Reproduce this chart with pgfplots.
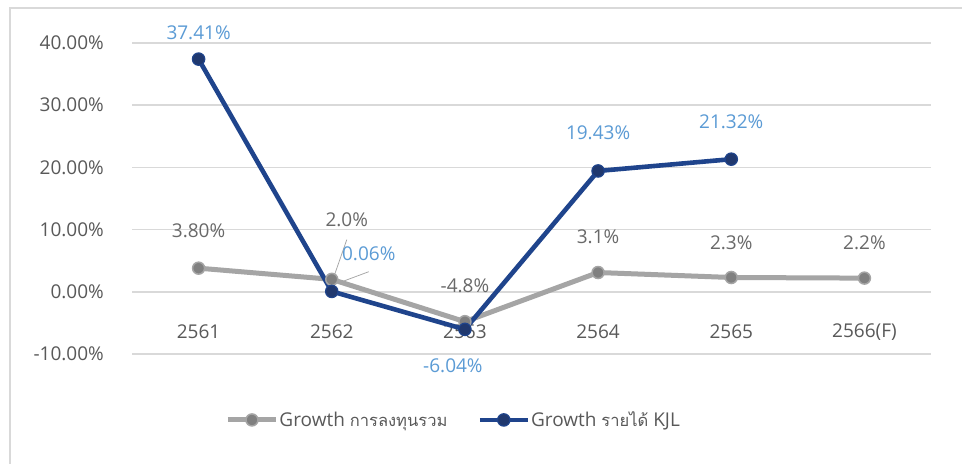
\documentclass[border=0pt]{standalone}
\usepackage{pgfplots}
\pgfplotsset{compat=1.18}
\usepackage{fontspec}
\setmainfont{Open Sans}
\newfontfamily\thaifont[Script=Thai,Scale=0.87]{Loma}
\definecolor{gridc}{RGB}{217,217,217}
\definecolor{tickc}{RGB}{89,89,89}
\definecolor{glab}{RGB}{105,105,105}
\definecolor{blab}{RGB}{91,155,213}
\definecolor{gline}{RGB}{165,165,165}
\definecolor{gmark}{RGB}{128,128,128}
\definecolor{bline}{RGB}{31,68,140}
\definecolor{bmark}{RGB}{32,56,110}
\pgfplotstableread{
x y lab dx dy
0 3.80 3.80 0 37
1 2.0 2.0 15 60
2 -4.8 -4.8 0 36
3 3.1 3.1 0 36
4 2.3 2.3 0 35
5 2.2 2.2 0 35
}\invest
\pgfplotstableread{
x y lab dx dy
0 37.41 37.41 0 26
1 0.06 0.06 37 38
2 -6.04 -6.04 -12 -36
3 19.43 19.43 0 38
4 21.32 21.32 0 37
}\revenue
\begin{document}
\begin{tikzpicture}
\useasboundingbox (0,0) rectangle (962bp,464bp);
\fill[white] (0,0) rectangle (962bp,464bp);
\draw[gridc, line width=1.5bp] (10bp,0) -- (10bp,456bp) -- (962bp,456bp);
\begin{axis}[
  at={(132bp,110bp)}, anchor=south west,
  scale only axis, width=799bp, height=311bp,
  xmin=-0.5, xmax=5.5, ymin=-10, ymax=40,
  clip=false,
  axis line style={draw=none},
  major tick length=0pt,
  tick style={draw=none},
  ymajorgrids, grid style={gridc, line width=1.5bp},
  xtick={0,1,2,3,4,5},
  xticklabels={2561,2562,2563,2564,2565,2566(F)},
  ytick={-10,0,10,20,30,40},
  yticklabels={-10.00\%,0.00\%,10.00\%,20.00\%,30.00\%,40.00\%},
  ticklabel style={font=\fontsize{19bp}{22bp}\selectfont, text=tickc},
  xticklabel style={anchor=center, inner sep=0pt, yshift=22bp},
  yticklabel style={anchor=east, inner sep=0pt, xshift=-28bp},
  legend style={draw=none, fill=none, at={(0.402,-0.212)}, anchor=center,
    font=\fontsize{19bp}{22bp}\selectfont, text=tickc,
    nodes={inner xsep=1bp},
    legend columns=2, /tikz/every even column/.append style={column sep=29bp}},
  legend image code/.code={\draw[#1] (0bp,0bp) -- (48bp,0bp);
    \draw[#1] plot coordinates {(24bp,0bp)};},
  nodes near coords={\pgfplotspointmeta\%},
  point meta=explicit symbolic,
  visualization depends on={\thisrow{dx} \as \dx},
  visualization depends on={\thisrow{dy} \as \dy},
]
\addplot[gline, line width=5bp, mark=*, mark size=6bp,
  mark options={fill=gmark, draw=gline, line width=1.5bp},
  nodes near coords style={anchor=center, xshift=\dx bp, yshift=\dy bp,
    font=\fontsize{19bp}{22bp}\selectfont, text=glab}]
  table[x=x, y=y, meta=lab] {\invest};
\addlegendentry{Growth {\thaifont การลงทุนรวม}}
\addplot[bline, line width=4.6bp, mark=*, mark size=6.2bp,
  mark options={fill=bmark, draw=bline, line width=1.2bp},
  nodes near coords style={anchor=center, xshift=\dx bp, yshift=\dy bp,
    font=\fontsize{19bp}{22bp}\selectfont, text=blab}]
  table[x=x, y=y, meta=lab] {\revenue};
\addlegendentry{Growth {\thaifont รายได้} KJL}
\draw[gline, line width=0.75bp] (axis cs:1.008,1.94) -- (axis cs:1.113,8.39);
\draw[gline, line width=0.75bp] (axis cs:1.075,1.61) -- (axis cs:1.278,3.23);
\end{axis}
\end{tikzpicture}
\end{document}
